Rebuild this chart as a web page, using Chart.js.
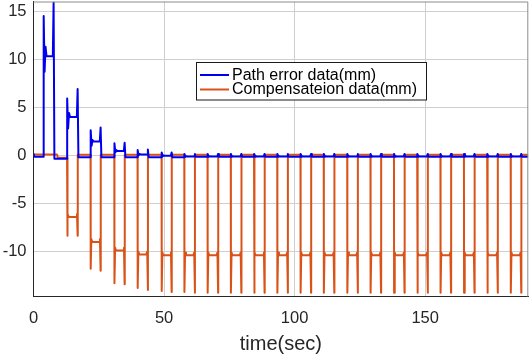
<!DOCTYPE html>
<html><head><meta charset="utf-8">
<script src="https://cdn.jsdelivr.net/npm/chart.js@4.4.0/dist/chart.umd.min.js"></script>
<style>html,body{margin:0;padding:0;background:#fff}</style>
</head><body>
<canvas id="c" width="529" height="356"></canvas>
<script>
// ---- data ----
const seriesNames = ['Path error data(mm)', 'Compensateion data(mm)'];
const xTicks = [0, 50, 100, 150];
const yTicks = [-10, -5, 0, 5, 10, 15];
const xRange = [0, 189.5];
const yRange = [-14.7, 16];

// pulse timing (sec), one entry per cycle
const pulseStart = [3.9, 12.9, 21.9, 31.0, 39.9, 49.1, 57.8, 66.7, 75.6, 84.5, 93.4, 102.3, 111.2, 120.2, 129.1, 138.1, 147.0, 155.9, 164.9, 173.8, 182.8];
const pulseEnd   = [7.7, 16.9, 25.7, 34.9, 43.8, 52.9, 61.8, 70.7, 79.6, 88.5, 97.4, 106.3, 115.2, 124.2, 133.1, 142.1, 151.0, 159.9, 168.9, 177.8, 186.8];

// path error (blue) per pulse
const errPeakL   = [14.5, 5.9, 2.6, 1.25, 0.55, 0.3, 0.15, 0.15, 0.15, 0.15, 0.15, 0.15, 0.15, 0.15, 0.15, 0.15, 0.15, 0.15, 0.15, 0.15, 0.15];
const errDip     = [8.7, 2.8, 1.0, 0.3, 0.0, -0.1, -0.15, -0.15, -0.15, -0.15, -0.15, -0.15, -0.15, -0.15, -0.15, -0.15, -0.15, -0.15, -0.15, -0.15, -0.15];
const errRebound = [11.3, 4.4, 1.6, 0.55, 0.15, 0.0, -0.1, -0.1, -0.1, -0.1, -0.1, -0.1, -0.1, -0.1, -0.1, -0.1, -0.1, -0.1, -0.1, -0.1, -0.1];
const errPlateau = [10.3, 4.0, 1.45, 0.45, 0.1, -0.05, -0.12, -0.12, -0.12, -0.12, -0.12, -0.12, -0.12, -0.12, -0.12, -0.12, -0.12, -0.12, -0.12, -0.12, -0.12];
const errPeakR   = [15.9, 6.9, 2.9, 1.3, 0.6, 0.3, 0.15, 0.15, 0.15, 0.15, 0.15, 0.15, 0.15, 0.15, 0.15, 0.15, 0.15, 0.15, 0.15, 0.15, 0.15];
const errGap     = [-0.35, -0.2, -0.2, -0.2, -0.2, -0.2, -0.15, -0.15, -0.15, -0.15, -0.15, -0.15, -0.15, -0.15, -0.15, -0.15, -0.15, -0.15, -0.15, -0.15, -0.15];
const errStartLevel = -0.15;

// compensation (orange) per pulse (first cycle has no compensation)
const compSpikeL  = [null, -8.35, -11.8, -13.3, -13.8, -14.1, -14.2, -14.3, -14.3, -14.3, -14.3, -14.3, -14.3, -14.3, -14.3, -14.3, -14.3, -14.3, -14.3, -14.3, -14.3];
const compPlateau = [null, -6.4, -9.0, -9.9, -10.3, -10.4, -10.4, -10.4, -10.4, -10.4, -10.4, -10.4, -10.4, -10.4, -10.4, -10.4, -10.4, -10.4, -10.4, -10.4, -10.4];
const compSpikeR  = [null, -8.35, -12.0, -13.4, -14.0, -14.2, -14.3, -14.3, -14.3, -14.3, -14.3, -14.3, -14.3, -14.3, -14.3, -14.3, -14.3, -14.3, -14.3, -14.3, -14.3];
const compFirstLevel = 0.08;   // 0 .. 9 s
const compFirstDrop = [9.0, -0.25]; // before first compensation pulse
const compGap = 0.05;

// ---- build polylines from the read values ----
const errPts = [{x: 0, y: 0.2}, {x: 0.3, y: errStartLevel}];
for (let k = 0; k < pulseStart.length; k++) {
  const s = pulseStart[k], e = pulseEnd[k];
  errPts.push({x: s - 0.05, y: k === 0 ? errStartLevel : errGap[k - 1]});
  errPts.push({x: s, y: errPeakL[k]});
  errPts.push({x: s + 0.35, y: errDip[k]});
  errPts.push({x: s + 0.7, y: errRebound[k]});
  errPts.push({x: s + 1.1, y: errPlateau[k]});
  errPts.push({x: e - 0.3, y: errPlateau[k]});
  errPts.push({x: e, y: errPeakR[k]});
  errPts.push({x: e + 0.3, y: errGap[k]});
}
errPts.push({x: xRange[1], y: errGap[errGap.length - 1]});

const compPts = [{x: 0, y: compFirstLevel}, {x: compFirstDrop[0], y: compFirstLevel}, {x: compFirstDrop[0] + 0.3, y: compFirstDrop[1]}];
for (let k = 1; k < pulseStart.length; k++) {
  const s = pulseStart[k], e = pulseEnd[k];
  compPts.push({x: s - 0.05, y: k === 1 ? compFirstDrop[1] : compGap});
  compPts.push({x: s, y: compSpikeL[k]});
  compPts.push({x: s + 0.25, y: compPlateau[k] + 0.3});
  compPts.push({x: s + 0.6, y: compPlateau[k]});
  compPts.push({x: e - 0.6, y: compPlateau[k]});
  compPts.push({x: e - 0.25, y: compPlateau[k] + 0.3});
  compPts.push({x: e, y: compSpikeR[k]});
  compPts.push({x: e + 0.05, y: compGap});
}
compPts.push({x: xRange[1], y: compGap});

const BLUE = '#0000ee', ORANGE = '#d95319';
const FONT = "'Liberation Sans', Arial, sans-serif";

const boxPlugin = {
  id: 'box',
  afterDraw(chart) {
    const {ctx, chartArea: a} = chart;
    ctx.save();
    ctx.strokeStyle = '#8c8c8c';
    ctx.lineWidth = 1;
    ctx.beginPath();
    ctx.moveTo(a.left, a.top + 0.5); ctx.lineTo(a.right - 0.5, a.top + 0.5); ctx.lineTo(a.right - 0.5, a.bottom);
    ctx.stroke();
    // legend
    const lx = 196.5, ly = 62.5, lw = 230, lh = 37.5;
    ctx.fillStyle = '#fff';
    ctx.fillRect(lx, ly, lw, lh);
    ctx.strokeStyle = '#1a1a1a';
    ctx.strokeRect(lx, ly, lw, lh);
    const cols = [BLUE, ORANGE];
    ctx.font = '16px ' + FONT;
    ctx.textBaseline = 'middle';
    ctx.textAlign = 'left';
    [75, 89.5].forEach((yy, i) => {
      ctx.strokeStyle = cols[i];
      ctx.lineWidth = 2;
      ctx.beginPath(); ctx.moveTo(200, yy); ctx.lineTo(229, yy); ctx.stroke();
      ctx.fillStyle = '#000';
      ctx.fillText(seriesNames[i], 232, yy + 0.5);
    });
    ctx.restore();
  }
};

new Chart(document.getElementById('c'), {
  type: 'line',
  data: {
    datasets: [
      {label: seriesNames[0], data: errPts, borderColor: BLUE, borderWidth: 2, borderJoinStyle: 'round', pointRadius: 0, tension: 0},
      {label: seriesNames[1], data: compPts, borderColor: ORANGE, borderWidth: 2, borderJoinStyle: 'round', pointRadius: 0, tension: 0}
    ]
  },
  options: {
    responsive: false,
    animation: false,
    devicePixelRatio: 1,
    layout: {padding: {left: 0, right: 0.7, top: 1.5, bottom: 0}},
    plugins: {legend: {display: false}, tooltip: {enabled: false}},
    scales: {
      x: {
        type: 'linear', min: xRange[0], max: xRange[1],
        afterBuildTicks: s => { s.ticks = xTicks.map(v => ({value: v})); },
        afterFit: s => { s.height = 59.3; s.paddingLeft = 0; s.paddingRight = 0; s.paddingTop = 0; s.paddingBottom = 0; },
        grid: {color: '#cfcfcf', drawTicks: false},
        border: {color: '#262626', width: 1},
        ticks: {color: '#262626', font: {family: FONT, size: 16.5}, padding: 12, maxRotation: 0},
        title: {display: true, text: 'time(sec)', color: '#262626', font: {family: FONT, size: 20}, padding: {top: 0, bottom: 0}}
      },
      y: {
        type: 'linear', min: yRange[0], max: yRange[1],
        afterBuildTicks: s => { s.ticks = yTicks.map(v => ({value: v})); },
        afterFit: s => { s.width = 33.5; s.paddingLeft = 0; s.paddingRight = 0; s.paddingTop = 0; s.paddingBottom = 0; },
        grid: {color: '#cfcfcf', drawTicks: false},
        border: {color: '#262626', width: 1},
        ticks: {color: '#262626', font: {family: FONT, size: 16.5}, padding: 7}
      }
    }
  },
  plugins: [boxPlugin]
});
</script>
</body></html>
